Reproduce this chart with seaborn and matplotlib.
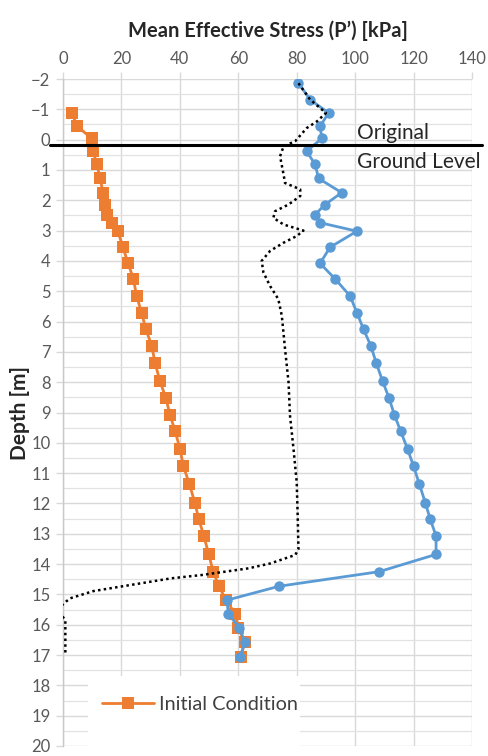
import matplotlib
matplotlib.use("Agg")
import matplotlib.pyplot as plt
import pandas as pd
import seaborn as sns
from matplotlib.patches import Rectangle
from matplotlib.ticker import MultipleLocator, NullLocator

sns.set_theme(style="white")
plt.rcParams["font.family"] = ["Lato", "DejaVu Sans"]

# Depth of each calculation point [m]
depth = [-1.86, -1.32, -0.88, -0.44, -0.04, 0.38, 0.82, 1.28, 1.75, 2.14,
         2.47, 2.74, 3.02, 3.55, 4.08, 4.60, 5.16, 5.71, 6.26, 6.81,
         7.36, 7.97, 8.52, 9.07, 9.62, 10.22, 10.77, 11.37, 11.97, 12.52,
         13.07, 13.68, 14.25, 14.73, 15.19, 15.63, 16.12, 16.58, 17.05]

# Mean effective stress, initial condition (starts at the third depth point)
p_initial = [3.0, 4.9, 9.8, 10.3, 11.6, 12.7, 13.7, 14.4, 15.1, 16.8,
             18.8, 20.5, 22.3, 24.1, 25.2, 26.9, 28.4, 30.4, 31.5, 33.2,
             35.2, 36.6, 38.4, 40.1, 41.2, 43.3, 45.1, 46.5, 48.2, 49.9,
             51.4, 53.4, 55.8, 58.9, 60.0, 62.3, 60.8]

# Mean effective stress after placement of the fill
p_after = [80.6, 84.6, 90.9, 88.0, 88.6, 83.4, 86.3, 87.5, 95.4, 89.7,
           86.3, 88.0, 100.6, 91.4, 88.0, 93.2, 98.3, 100.6, 102.9, 105.4,
           107.2, 109.4, 111.6, 113.4, 115.6, 118.0, 120.0, 122.0, 124.0, 125.7,
           127.7, 127.7, 108.2, 74.0, 56.1, 56.6, 60.4, 62.3, 60.6]

# Dotted profile
depth_dotted = [-1.86, -1.32, -0.88, -0.60, -0.38, 0.05, 0.22, 0.55, 1.15, 1.43,
                1.64, 1.86, 2.14, 2.36, 2.58, 2.80, 3.00, 3.18, 3.40, 3.67,
                4.00, 4.38, 4.83, 5.26, 5.81, 6.90, 8.00, 9.10, 10.20, 11.30,
                12.30, 13.50, 13.70, 13.98, 14.14, 14.25, 14.36, 14.47, 14.71, 14.89,
                15.13, 15.24, 15.50, 15.85, 16.50, 17.00]
p_dotted = [80.6, 84.6, 90.0, 86.9, 83.4, 79.5, 75.5, 74.3, 75.5, 76.0,
            81.2, 81.2, 77.2, 72.6, 72.0, 75.5, 82.3, 80.0, 75.5, 70.9,
            68.0, 68.6, 70.9, 73.7, 74.9, 76.0, 77.2, 77.7, 78.9, 80.0,
            80.3, 80.6, 79.5, 70.9, 63.5, 55.5, 47.5, 37.0, 21.8, 10.4,
            2.4, 1.0, -2.0, 0.8, 0.8, 0.8]

ground_level = 0.17
x_ticks = [0, 20, 40, 60, 80, 100, 120, 140]

df_init = pd.DataFrame({"depth": depth[2:], "p": p_initial})
df_after = pd.DataFrame({"depth": depth, "p": p_after})
df_dot = pd.DataFrame({"depth": depth_dotted, "p": p_dotted})

W, H = 488, 756
fig = plt.figure(figsize=(W / 100, H / 100), dpi=100)
ax = fig.add_axes([63 / W, 1 - 746 / H, (472 - 63) / W, (746 - 79) / H])

orange = "#ED7D31"
blue = "#5B9BD5"

sns.lineplot(data=df_init, x="p", y="depth", sort=False, estimator=None,
             orient="y", color=orange, linewidth=2, marker="s", markersize=8.5,
             markeredgewidth=0, label="Initial Condition", ax=ax, zorder=3)
sns.lineplot(data=df_after, x="p", y="depth", sort=False, estimator=None,
             orient="y", color=blue, linewidth=2, marker="o", markersize=7.5,
             markeredgewidth=0, ax=ax, zorder=4, legend=False)
sns.lineplot(data=df_dot, x="p", y="depth", sort=False, estimator=None,
             orient="y", color="black", linewidth=1.8, ax=ax, zorder=5,
             legend=False)
ax.lines[-1].set_linestyle((0, (1, 1.3)))

ax.set_xlim(0, 140)
ax.set_ylim(20, -2)
ax.set_xticks(x_ticks)
ax.yaxis.set_major_locator(MultipleLocator(1))
ax.yaxis.set_minor_locator(MultipleLocator(0.5))
ax.xaxis.set_minor_locator(NullLocator())
ax.xaxis.tick_top()
ax.xaxis.set_label_position("top")

grid_c = "#D9D9D9"
ax.grid(which="major", color=grid_c, linewidth=1)
ax.grid(which="minor", axis="y", color="#E2E2E2", linewidth=0.9)
ax.tick_params(axis="both", which="major", length=5, width=1, color=grid_c,
               labelsize=12, labelcolor="#595959", pad=4)
ax.tick_params(axis="y", which="minor", length=0)
ax.tick_params(axis="x", top=True, bottom=False, labeltop=True, labelbottom=False)
ax.tick_params(axis="y", left=True, right=False)
for s in ["top", "right", "bottom"]:
    ax.spines[s].set_visible(False)
ax.spines["left"].set_color("#C8C8C8")
ax.spines["left"].set_linewidth(1)

ax.set_xlabel("Mean Effective Stress (P\u2019) [kPa]", fontsize=14.5,
              fontweight="bold", color="#262626", labelpad=10)
ax.set_ylabel("Depth [m]", fontsize=15, fontweight="bold", color="#262626",
              labelpad=1)

# Original ground level marker
ax.plot([-4.5, 143.5], [ground_level, ground_level], color="black",
        linewidth=2.2, clip_on=False, zorder=6)
ax.text(100.5, -0.02, "Original", fontsize=15, color="#262626",
        ha="left", va="baseline", zorder=6)
ax.text(100.5, 0.94, "Ground Level", fontsize=15, color="#262626",
        ha="left", va="baseline", zorder=6, clip_on=False)

# White legend area hiding the grid in the lower-left corner
ax.add_patch(Rectangle((88 / W, 0), (300 - 88) / W, (756 - 676) / H,
                       transform=fig.transFigure, facecolor="white",
                       edgecolor="none", clip_on=False, zorder=2.5))

leg = ax.legend(loc="center left", bbox_to_anchor=(102 / W, 1 - 704 / H),
                bbox_transform=fig.transFigure, borderaxespad=0,
                frameon=False, fontsize=14.3, handlelength=2.6,
                handletextpad=0.25, borderpad=0.0)
for t in leg.get_texts():
    t.set_color("#404040")
leg.set_zorder(7)

fig.savefig("out.png", dpi=100)
